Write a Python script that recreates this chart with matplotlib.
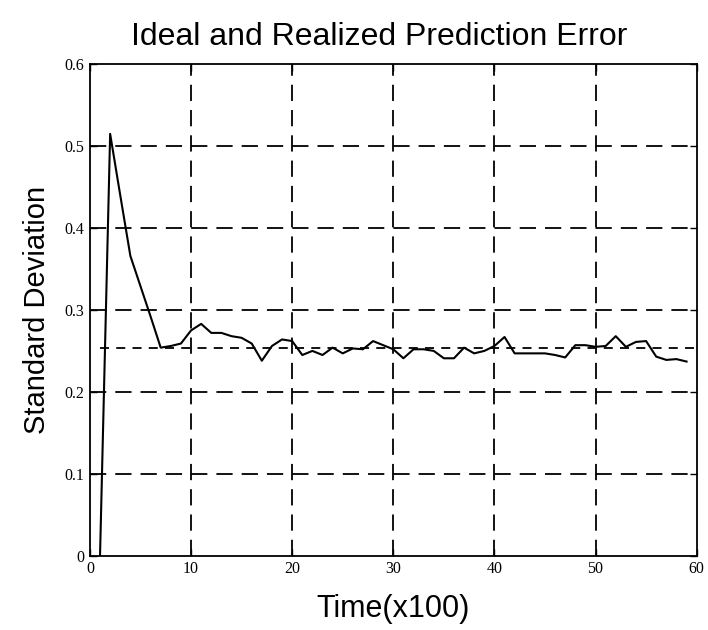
#!/usr/bin/env python3

import numpy as np
import matplotlib
matplotlib.use('Agg')
import matplotlib.pyplot as plt

# realized prediction error (std dev), one value per 100 time steps
time = list(range(1, 60))
realized = [
    0.0, 0.515, 0.44, 0.366, 0.329, 0.292, 0.254, 0.256, 0.259, 0.275,
    0.283, 0.272, 0.272, 0.268, 0.266, 0.259, 0.238, 0.256, 0.264, 0.262,
    0.245, 0.250, 0.245, 0.254, 0.247, 0.253, 0.252, 0.262, 0.257, 0.252,
    0.241, 0.252, 0.252, 0.250, 0.241, 0.241, 0.254, 0.247, 0.250, 0.256,
    0.267, 0.247, 0.247, 0.247, 0.247, 0.245, 0.242, 0.257, 0.257, 0.255,
    0.256, 0.268, 0.255, 0.261, 0.262, 0.243, 0.239, 0.240, 0.237,
]
ideal_level = 0.254
ideal_span = [1, 60]

xticks = [0, 10, 20, 30, 40, 50, 60]
yticks = [0, 0.1, 0.2, 0.3, 0.4, 0.5, 0.6]
ytick_labels = ['0', '0.1', '0.2', '0.3', '0.4', '0.5', '0.6']

fig = plt.figure(figsize=(7.08, 6.3), dpi=100)
ax = fig.add_axes([0.127, 0.118, 0.857, 0.78])

for yv in yticks[1:-1]:
    ax.plot([xticks[0], xticks[-1]], [yv, yv], color='black', lw=1.3,
            dashes=(9, 5), zorder=1)
for xv in xticks[1:-1]:
    ax.plot([xv, xv], [yticks[0], yticks[-1]], color='black', lw=1.3,
            dashes=(9, 5), zorder=1)

ax.plot(ideal_span, [ideal_level, ideal_level], color='black', lw=1.3,
        dashes=(5, 4), zorder=2)
ax.plot(time, realized, color='black', lw=1.5, zorder=3)

ax.set_xlim(0, 60)
ax.set_ylim(0, 0.6)
ax.set_xticks(xticks)
ax.set_yticks(yticks)
ax.set_yticklabels(ytick_labels)
ax.tick_params(direction='in', top=True, right=True, length=5, width=1,
               labelsize=11.5, pad=4)
for lab in ax.get_xticklabels() + ax.get_yticklabels():
    lab.set_family(['Liberation Serif', 'DejaVu Serif'])
for sp in ax.spines.values():
    sp.set_linewidth(1.3)

sans = ['Liberation Sans', 'DejaVu Sans']
ax.set_xlabel('Time(x100)', fontsize=22, family=sans, labelpad=12)
ax.set_ylabel('Standard Deviation', fontsize=21, family=sans, labelpad=10)
fig.text(0.535, 0.942, 'Ideal and Realized Prediction Error', fontsize=23,
         family=sans, ha='center', va='center')

fig.savefig('out.png', dpi=100)
